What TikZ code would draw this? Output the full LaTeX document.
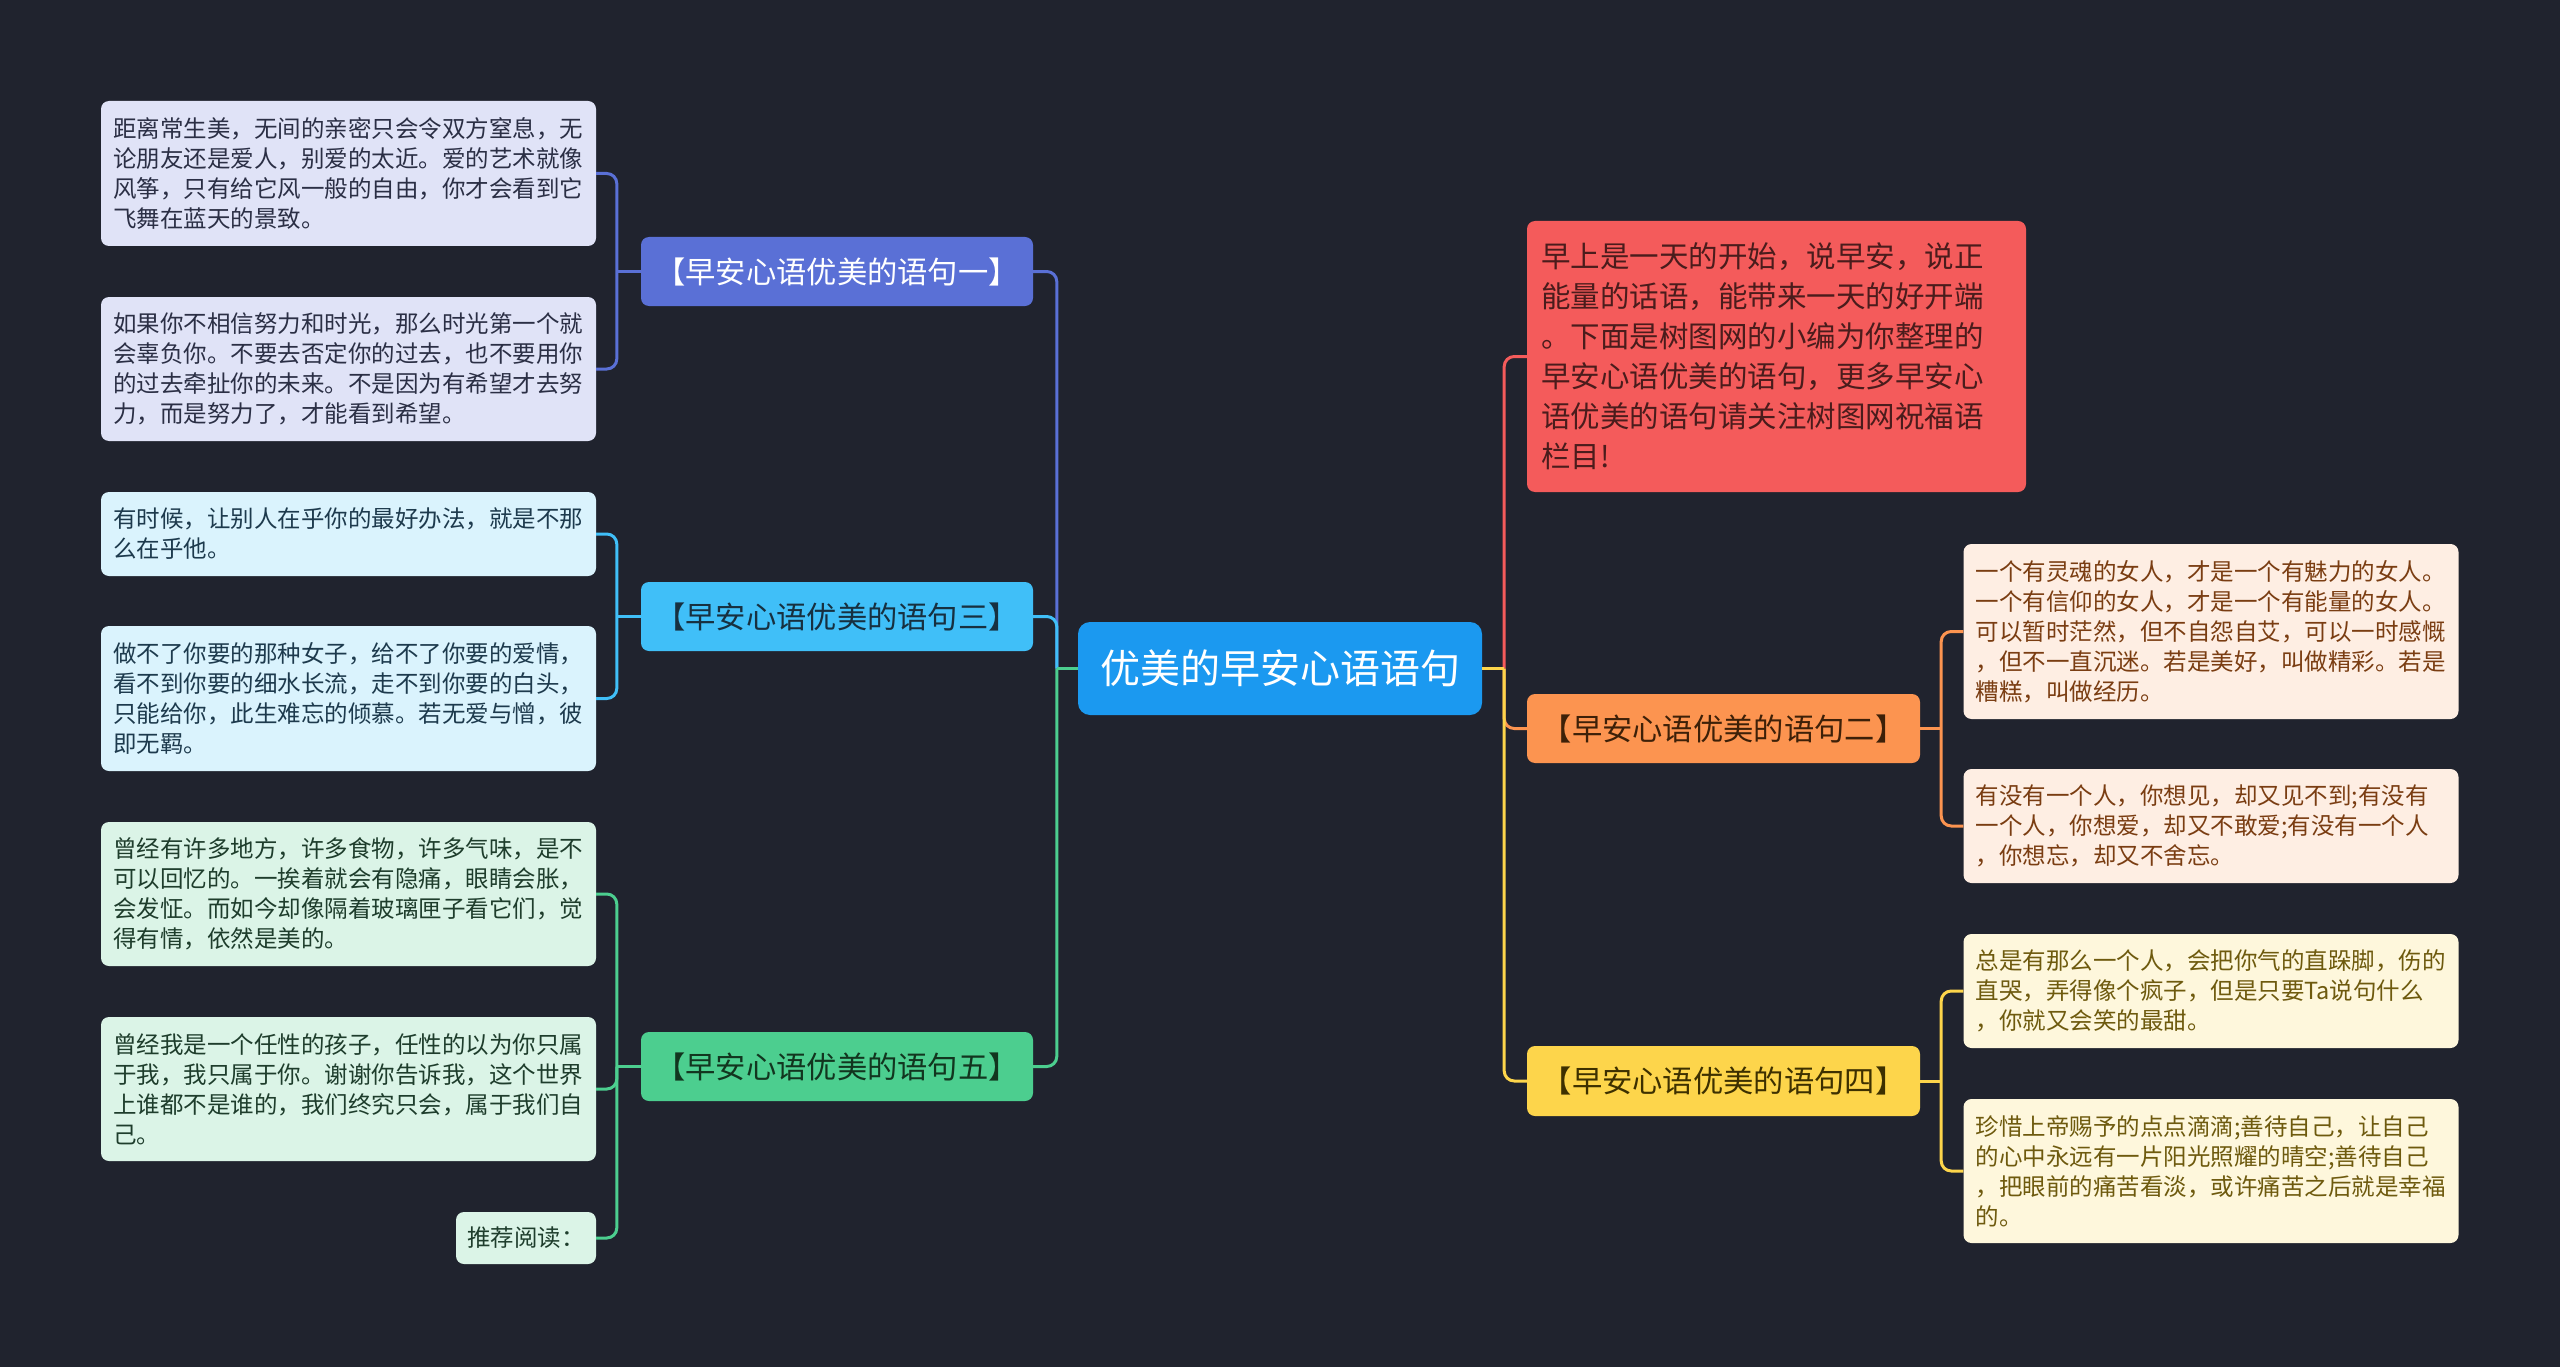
\documentclass[tikz,border=0pt]{standalone}
\usepackage{fontspec}
\newfontfamily\cjk{Noto Sans CJK SC}
\usetikzlibrary{calc}
\definecolor{bg}{HTML}{20232E}
\definecolor{cC}{HTML}{1B99F0}
\definecolor{cB1}{HTML}{5A70D6}
\definecolor{cB3}{HTML}{40BFF8}
\definecolor{cB5}{HTML}{4CCE8F}
\definecolor{cR1}{HTML}{F45B5B}
\definecolor{cR2}{HTML}{FC9450}
\definecolor{cR4}{HTML}{FDD54B}
\definecolor{fL1}{HTML}{E0E3F7}
\definecolor{fL3}{HTML}{DAF3FD}
\definecolor{fL5}{HTML}{DBF4E7}
\definecolor{fR2}{HTML}{FEEEE3}
\definecolor{fR4}{HTML}{FEF7DC}
\definecolor{tL1}{HTML}{2B2F45}
\definecolor{tL3}{HTML}{1D3A4D}
\definecolor{tL5}{HTML}{1E3D2C}
\definecolor{tR2}{HTML}{7A3D12}
\definecolor{tR4}{HTML}{6E5A0E}
\definecolor{tR1}{HTML}{4A1C1C}
\definecolor{tB3}{HTML}{173040}
\definecolor{tB5}{HTML}{12351F}
\definecolor{tR2b}{HTML}{3D2008}
\definecolor{tR4b}{HTML}{3D3000}
\tikzset{
  box/.style={rectangle, rounded corners=8pt, draw=none, inner ysep=0pt},
  leaf/.style={box, inner xsep=12pt, text width=471pt, align=left, minimum height=#1,
    font=\cjk\fontsize{23.5pt}{30pt}\selectfont},
  branch/.style={box, inner xsep=0pt, minimum width=392pt, minimum height=69pt, align=center,
    font=\cjk\fontsize{30.3pt}{36pt}\selectfont},
  conn/.style={line width=3pt},
}
\begin{document}
\begin{tikzpicture}[x=1pt,y=-1pt]
\useasboundingbox (0,0) rectangle (2560,1367);
\fill[bg] (0,0) rectangle (2560,1367);

% center
\node[box, fill=cC, text=white, minimum width=404pt, minimum height=93pt, inner xsep=0pt, align=center,
  rounded corners=12pt, font=\cjk\fontsize{40pt}{48pt}\selectfont] (C) at (1280,668.5) {优美的早安心语语句};

% branches
\node[branch, fill=cB1, text=white] (B1) at (837,271.5) {【早安心语优美的语句一】};
\node[branch, fill=cB3, text=tB3] (B3) at (837,616.5) {【早安心语优美的语句三】};
\node[branch, fill=cB5, text=tB5] (B5) at (837,1066.5) {【早安心语优美的语句五】};
\node[box, fill=cR1, text=tR1, inner xsep=14pt, text width=471pt, align=left, minimum height=271pt,
  font=\cjk\fontsize{29.5pt}{40pt}\selectfont] (R1) at (1776.5,356.5)
  {早上是一天的开始，说早安，说正\\能量的话语，能带来一天的好开端\\。下面是树图网的小编为你整理的\\早安心语优美的语句，更多早安心\\语优美的语句请关注树图网祝福语\\栏目!};
\node[branch, fill=cR2, text=tR2b, minimum width=393pt] (R2) at (1723.5,728.5) {【早安心语优美的语句二】};
\node[branch, fill=cR4, text=tR4b, minimum width=393pt, minimum height=70pt] (R4) at (1723.5,1081) {【早安心语优美的语句四】};

% left leaves
\node[leaf=145pt, fill=fL1, text=tL1] (L1a) at (348.5,173.5)
  {距离常生美，无间的亲密只会令双方窒息，无\\论朋友还是爱人，别爱的太近。爱的艺术就像\\风筝，只有给它风一般的自由，你才会看到它\\飞舞在蓝天的景致。};
\node[leaf=144pt, fill=fL1, text=tL1] (L1b) at (348.5,369)
  {如果你不相信努力和时光，那么时光第一个就\\会辜负你。不要去否定你的过去，也不要用你\\的过去牵扯你的未来。不是因为有希望才去努\\力，而是努力了，才能看到希望。};
\node[leaf=84pt, fill=fL3, text=tL3] (L3a) at (348.5,534)
  {有时候，让别人在乎你的最好办法，就是不那\\么在乎他。};
\node[leaf=145pt, fill=fL3, text=tL3] (L3b) at (348.5,698.5)
  {做不了你要的那种女子，给不了你要的爱情，\\看不到你要的细水长流，走不到你要的白头，\\只能给你，此生难忘的倾慕。若无爱与憎，彼\\即无羁。};
\node[leaf=144pt, fill=fL5, text=tL5] (L5a) at (348.5,894)
  {曾经有许多地方，许多食物，许多气味，是不\\可以回忆的。一挨着就会有隐痛，眼睛会胀，\\会发怔。而如今却像隔着玻璃匣子看它们，觉\\得有情，依然是美的。};
\node[leaf=144pt, fill=fL5, text=tL5] (L5b) at (348.5,1089)
  {曾经我是一个任性的孩子，任性的以为你只属\\于我，我只属于你。谢谢你告诉我，这个世界\\上谁都不是谁的，我们终究只会，属于我们自\\己。};
\node[box, fill=fL5, text=tL5, inner xsep=0pt, minimum width=140pt, minimum height=52pt,
  font=\cjk\fontsize{23.5pt}{30pt}\selectfont] (L5c) at (526,1238) {推荐阅读：};

% right leaves
\node[leaf=175pt, fill=fR2, text=tR2] (R2a) at (2211,631.5)
  {一个有灵魂的女人，才是一个有魅力的女人。\\一个有信仰的女人，才是一个有能量的女人。\\可以暂时茫然，但不自怨自艾，可以一时感慨\\，但不一直沉迷。若是美好，叫做精彩。若是\\糟糕，叫做经历。};
\node[leaf=114pt, fill=fR2, text=tR2] (R2b) at (2211,826)
  {有没有一个人，你想见，却又见不到;有没有\\一个人，你想爱，却又不敢爱;有没有一个人\\，你想忘，却又不舍忘。};
\node[leaf=114pt, fill=fR4, text=tR4] (R4a) at (2211,991)
  {总是有那么一个人，会把你气的直跺脚，伤的\\直哭，弄得像个疯子，但是只要Ta说句什么\\，你就又会笑的最甜。};
\node[leaf=144pt, fill=fR4, text=tR4] (R4b) at (2211,1171)
  {珍惜上帝赐予的点点滴滴;善待自己，让自己\\的心中永远有一片阳光照耀的晴空;善待自己\\，把眼前的痛苦看淡，或许痛苦之后就是幸福\\的。};

% junction coordinates
\coordinate (cl) at ($(C.west)+(-21,0)$);
\coordinate (cr) at ($(C.east)+(22,0)$);
\coordinate (b1j) at ($(B1.west)+(-24,0)$);
\coordinate (b3j) at ($(B3.west)+(-24,0)$);
\coordinate (b5j) at ($(B5.west)+(-24,0)$);
\coordinate (r2j) at ($(R2.east)+(21,0)$);
\coordinate (r4j) at ($(R4.east)+(21,0)$);

% center to branches (left)
\draw[conn, cB1] (C.west) -- (cl);
\draw[conn, cB1, rounded corners=10pt] (cl) |- (B1.east);
\draw[conn, cB3] (C.west) -- (cl);
\draw[conn, cB3, rounded corners=10pt] (cl) |- (B3.east);
\draw[conn, cB5] (C.west) -- (cl);
\draw[conn, cB5, rounded corners=10pt] (cl) |- (B5.east);
% center to branches (right)
\draw[conn, cR1] (C.east) -- (cr);
\draw[conn, cR1, rounded corners=10pt] (cr) |- (R1.west);
\draw[conn, cR2] (C.east) -- (cr);
\draw[conn, cR2, rounded corners=10pt] (cr) |- (R2.west);
\draw[conn, cR4] (C.east) -- (cr);
\draw[conn, cR4, rounded corners=10pt] (cr) |- (R4.west);

% branches to leaves
\draw[conn, cB1] (B1.west) -- (b1j);
\draw[conn, cB1, rounded corners=10pt] (L1a.east) -| (b1j) |- (L1b.east);
\draw[conn, cB3] (B3.west) -- (b3j);
\draw[conn, cB3, rounded corners=10pt] (L3a.east) -| (b3j) |- (L3b.east);
\draw[conn, cB5] (B5.west) -- (b5j);
\draw[conn, cB5, rounded corners=10pt] (L5a.east) -| (b5j) |- (L5c.east);
\draw[conn, cB5, rounded corners=10pt] (b5j) |- (L5b.east);
\draw[conn, cR2] (R2.east) -- (r2j);
\draw[conn, cR2, rounded corners=10pt] (R2a.west) -| (r2j) |- (R2b.west);
\draw[conn, cR4] (R4.east) -- (r4j);
\draw[conn, cR4, rounded corners=10pt] (R4a.west) -| (r4j) |- (R4b.west);
\end{tikzpicture}
\end{document}
